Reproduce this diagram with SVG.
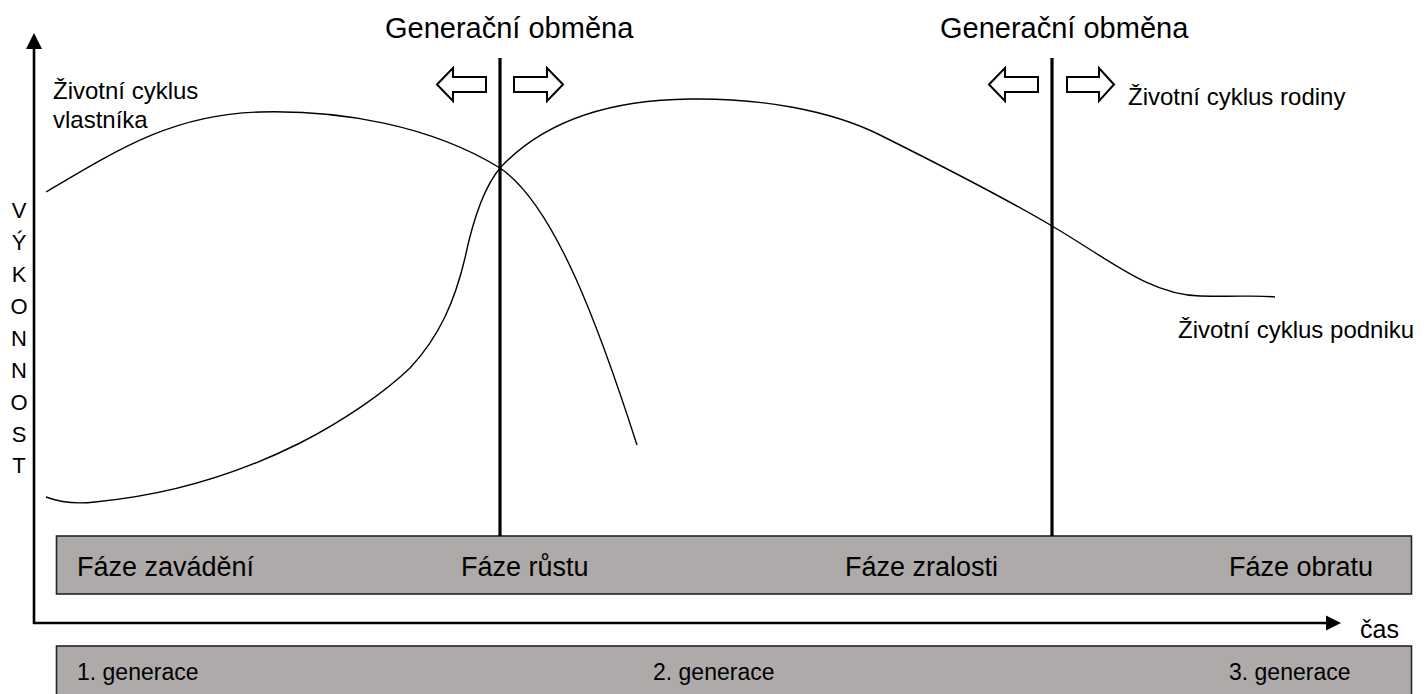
<svg xmlns="http://www.w3.org/2000/svg" width="1424" height="694" viewBox="0 0 1424 694">
<style>
.t{font-family:"Liberation Sans",Arial,sans-serif;fill:#000}
.box{fill:#aeaaaa;stroke:#262626;stroke-width:1.6}
.curve{fill:none;stroke:#000;stroke-width:1.4}
.axis{stroke:#000;stroke-width:2.6;fill:none}
.sep{stroke:#000;stroke-width:3.2}
.hollow{fill:#fff;stroke:#000;stroke-width:2;stroke-linejoin:miter}
</style>
<rect width="1424" height="694" fill="#fff"/>
<g id="phases">
<rect class="box" x="56.5" y="536" width="1355" height="58"/>
<text class="t" x="77" y="576" font-size="27">Fáze zavádění</text>
<text class="t" x="461" y="576" font-size="27">Fáze růstu</text>
<text class="t" x="845" y="576" font-size="27">Fáze zralosti</text>
<text class="t" x="1229" y="576" font-size="27">Fáze obratu</text>
</g>
<g id="generations">
<rect class="box" x="56.5" y="646" width="1355" height="60"/>
<text class="t" x="77" y="680" font-size="23">1. generace</text>
<text class="t" x="653" y="680" font-size="23">2. generace</text>
<text class="t" x="1229" y="680" font-size="23">3. generace</text>
</g>
<g id="axes">
<line class="axis" x1="34" y1="46" x2="34" y2="624"/>
<polygon points="34,33 26,49 42,49" fill="#000"/>
<line class="axis" x1="33" y1="623" x2="1328" y2="623"/>
<polygon points="1341,623 1326,615.5 1326,630.5" fill="#000"/>
<text class="t" x="1360" y="638" font-size="25">čas</text>
<g class="t" font-size="22" text-anchor="middle">
<text x="19" y="218">V</text>
<text x="19" y="250">Ý</text>
<text x="19" y="282">K</text>
<text x="19" y="314">O</text>
<text x="19" y="346">N</text>
<text x="19" y="378">N</text>
<text x="19" y="410">O</text>
<text x="19" y="442">S</text>
<text x="19" y="473">T</text>
</g>
</g>
<g id="connectors">
<path id="owner-curve" class="curve" d="M46,192 C120,148 175,114 260,112 C340,110 430,125 500,168 C555,205 600,330 637,445"/>
<path id="company-curve" class="curve" d="M46,497 C62,503 78,504 95,502 C160,496 230,478 300,443 C345,420 385,392 410,368 C440,336 455,300 465,258 C474,215 485,186 500,168 C540,125 600,100 690,99 C760,98 830,110 880,135 C930,160 1000,195 1052,226 C1110,260 1150,295 1200,296 C1240,297 1260,295 1275,297"/>
</g>
<g id="change1">
<line class="sep" x1="500" y1="58" x2="500" y2="536"/>
<polygon class="hollow" points="437,84.5 453,68 453,77 486,77 486,92 453,92 453,101"/>
<polygon class="hollow" points="563,84.5 547,68 547,77 514,77 514,92 547,92 547,101"/>
<text class="t" x="385" y="38" font-size="29">Generační obměna</text>
</g>
<g id="change2">
<line class="sep" x1="1052" y1="58" x2="1052" y2="536"/>
<polygon class="hollow" points="989,84.5 1005,68 1005,77 1038,77 1038,92 1005,92 1005,101"/>
<polygon class="hollow" points="1114,84.5 1099,68 1099,77 1067,77 1067,92 1099,92 1099,101"/>
<text class="t" x="940" y="38" font-size="29">Generační obměna</text>
</g>
<g id="labels">
<text class="t" x="53" y="99" font-size="24">Životní cyklus</text>
<text class="t" x="53" y="128" font-size="24">vlastníka</text>
<text class="t" x="1128" y="105" font-size="24">Životní cyklus rodiny</text>
<text class="t" x="1178" y="338" font-size="24">Životní cyklus podniku</text>
</g>
</svg>
